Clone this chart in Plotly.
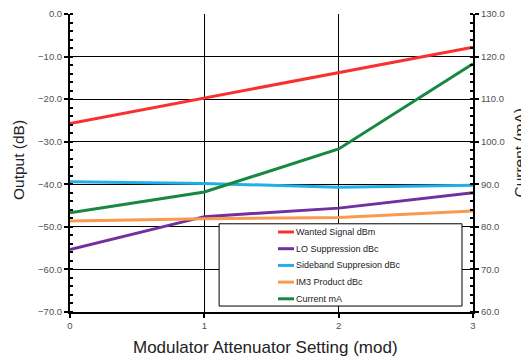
import plotly.graph_objects as go

# attenuator settings
settings = [0, 1, 2, 3]

wanted_signal = [-25.7, -19.7, -13.7, -7.8]   # dBm
lo_suppression = [-55.3, -47.6, -45.6, -42.0]  # dBc
sideband_supp = [-39.4, -39.8, -40.7, -40.2]   # dBc
im3_product = [-48.6, -48.1, -47.8, -46.3]     # dBc
current_ma = [83.3, 88.2, 98.3, 118.3]         # mA (right axis)

names = ['Wanted Signal dBm', 'LO Suppression dBc', 'Sideband Suppresion dBc', 'IM3 Product dBc', 'Current mA']
colors = ['#F8312F', '#7030A0', '#22AEE6', '#F99A4E', '#17883F']

fig = go.Figure()
for name, ys, c in zip(names[:4], [wanted_signal, lo_suppression, sideband_supp, im3_product], colors[:4]):
    fig.add_trace(go.Scatter(x=settings, y=ys, name=name, mode='lines', line={'color': c, 'width': 3}))
fig.add_trace(go.Scatter(x=settings, y=current_ma, name=names[4], mode='lines',
                         line={'color': colors[4], 'width': 3}, yaxis='y2'))

tick_font = {'family': 'Liberation Sans', 'size': 9.5, 'color': '#505050'}
title_color = '#222222'

# page body has an 8px margin, so the figure is a little smaller than the window
fig.update_layout(
    width=521, height=349,
    margin={'l': 62, 'r': 56, 't': 6, 'b': 45},
    plot_bgcolor='white', paper_bgcolor='white',
    showlegend=False,
    xaxis={'range': [0, 3], 'tickvals': settings, 'ticks': 'outside', 'ticklen': 4,
           'tickcolor': 'black', 'tickwidth': 1.5, 'automargin': False,
           'showline': True, 'linecolor': 'black', 'linewidth': 2,
           'showgrid': True, 'gridcolor': 'black', 'gridwidth': 1,
           'zeroline': False, 'tickfont': tick_font},
    yaxis={'range': [-70, 0], 'dtick': 10, 'tickformat': '.1f', 'ticks': 'outside', 'ticklen': 4,
           'tickcolor': 'black', 'tickwidth': 1.5, 'automargin': False,
           'showline': True, 'linecolor': 'black', 'linewidth': 2,
           'showgrid': True, 'gridcolor': 'black', 'gridwidth': 1,
           'zeroline': False, 'tickfont': tick_font,
           'minor': {'dtick': 2, 'ticks': 'inside', 'ticklen': 3, 'tickcolor': 'black', 'showgrid': False}},
    yaxis2={'range': [60, 130], 'dtick': 10, 'tickformat': '.1f', 'overlaying': 'y', 'side': 'right',
            'ticks': 'outside', 'ticklen': 4, 'tickcolor': 'black', 'tickwidth': 1.5, 'automargin': False,
            'showline': True, 'linecolor': 'black', 'linewidth': 2,
            'showgrid': False, 'zeroline': False, 'tickfont': tick_font,
            'minor': {'dtick': 2, 'ticks': 'inside', 'ticklen': 3, 'tickcolor': 'black'}},
)

# axis titles
fig.add_annotation(text='Modulator Attenuator Setting (mod)', xref='paper', yref='paper', x=0.486, y=-0.12,
                   xanchor='center', yanchor='middle', showarrow=False,
                   font={'family': 'Liberation Sans', 'size': 17, 'color': title_color})
fig.add_annotation(text='Output (dB)', xref='paper', yref='paper', x=-0.129, y=0.51, textangle=-90,
                   xanchor='center', yanchor='middle', showarrow=False,
                   font={'family': 'Liberation Sans', 'size': 15.5, 'color': title_color})
fig.add_annotation(text='Current (mA)', xref='paper', yref='paper', x=1.1166, y=0.535, textangle=-90,
                   xanchor='center', yanchor='middle', showarrow=False,
                   font={'family': 'Liberation Sans', 'size': 15.5, 'color': title_color})

# legend frame and entries
fig.add_shape(type='rect', xref='paper', yref='paper', x0=0.370, x1=0.9727, y0=0.020, y1=0.296,
              line={'color': 'black', 'width': 1}, fillcolor='white', layer='above')
for i, (name, c) in enumerate(zip(names, colors)):
    yy = (312 - (232 + i * 16.7)) / 298
    fig.add_shape(type='line', xref='paper', yref='paper', x0=(278 - 70) / 403, x1=(294 - 70) / 403,
                  y0=yy, y1=yy, line={'color': c, 'width': 3}, layer='above')
    fig.add_annotation(text=name, xref='paper', yref='paper', x=(294 - 70) / 403, y=yy,
                       xanchor='left', yanchor='middle', showarrow=False,
                       font={'family': 'Liberation Sans', 'size': 9, 'color': title_color})

fig.write_html("out.html")
